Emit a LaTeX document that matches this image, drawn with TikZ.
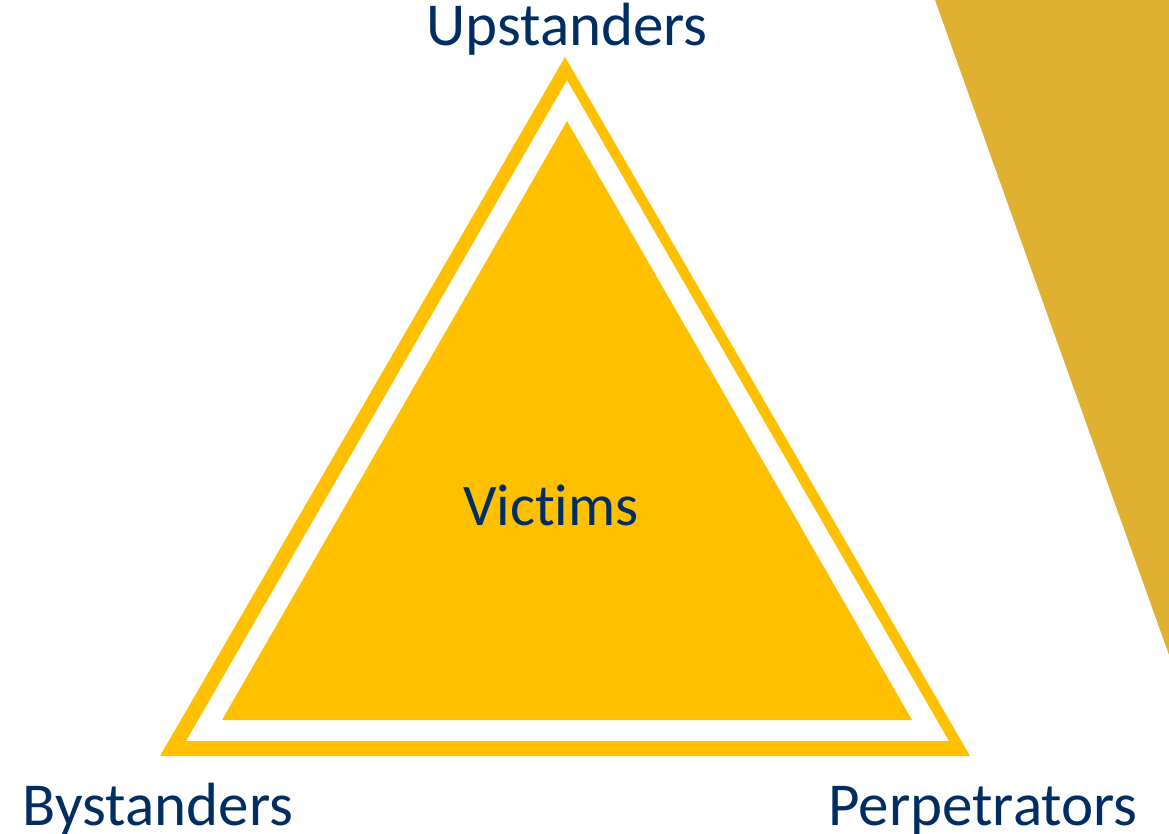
\documentclass[tikz,border=0pt]{standalone}
\usepackage{fontspec}
\setmainfont[Ligatures=NoCommon]{Carlito}
\definecolor{gold}{RGB}{255,192,0}
\definecolor{darkgold}{RGB}{224,177,48}
\definecolor{navy}{RGB}{0,45,98}
\begin{document}
\begin{tikzpicture}[x=1pt,y=-1pt,
    label/.style={text=navy,inner sep=0pt,anchor=base,font=\fontsize{61}{70}\selectfont}]
            \useasboundingbox (0,0) rectangle (1169,833);

            %draw the band top right
            \fill[darkgold] (935,0) -- (1169,0) -- (1169,655) -- cycle;

            %draw the outer triangle ring
            \fill[gold,even odd rule] (565,57) -- (970,756) -- (160,756) -- cycle
                (567,80) -- (949,741) -- (186,741) -- cycle;

            %draw the inner triangle
            \fill[gold] (567,121) -- (912,720) -- (222,720) -- cycle;

            %labels on the corners and in the middle
            \node[label] (up) at (567,45) {Upstanders};
            \node[label,font=\fontsize{59}{66}\selectfont] (vi) at (551,525) {Vict\kern0pt ims};
            \node[label] (by) at (158,825) {Bystanders};
            \node[label] (pe) at (983,825) {Perpetrators};
        \end{tikzpicture}
\end{document}
